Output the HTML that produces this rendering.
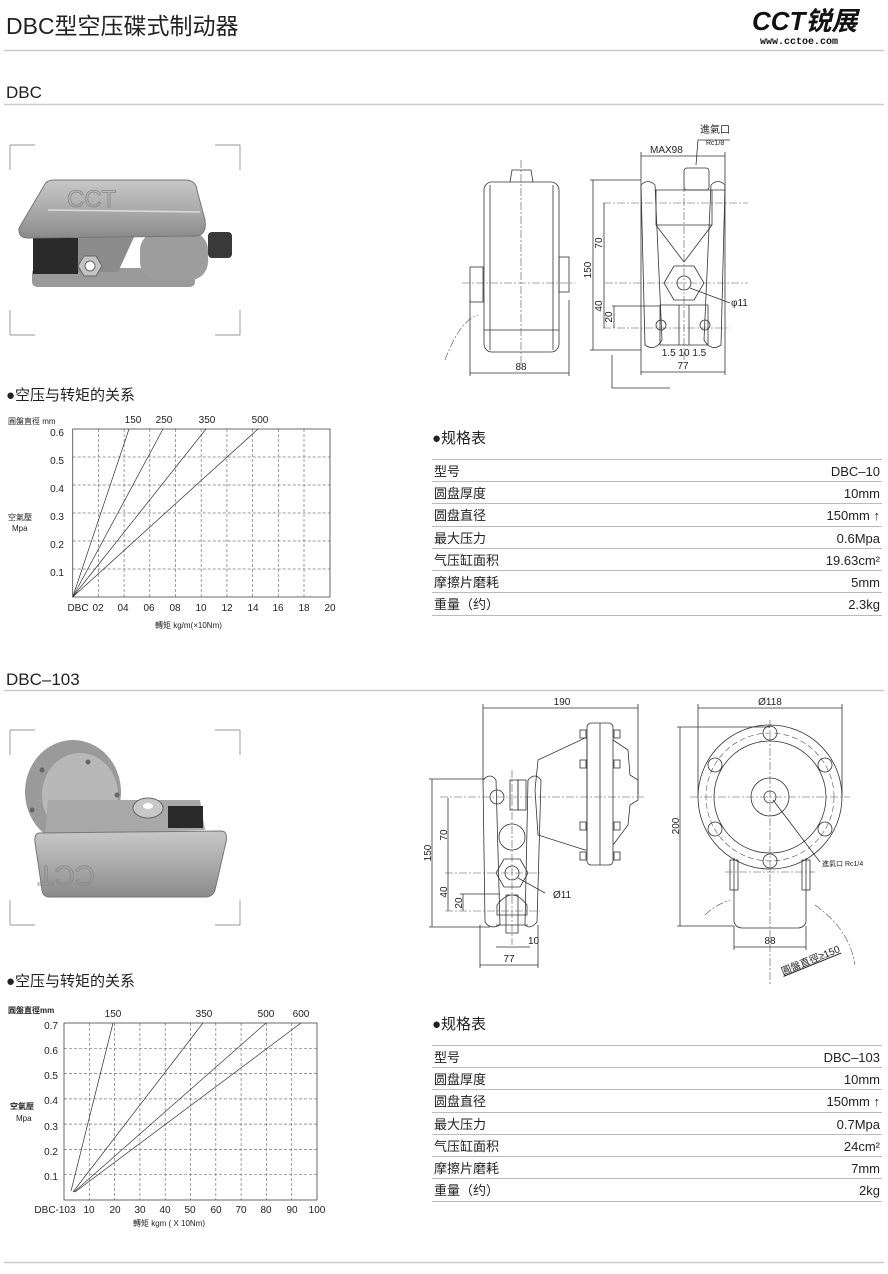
<!DOCTYPE html>
<html><head><meta charset="utf-8"><style>
html,body{margin:0;padding:0;background:#fff}
svg{display:block}
text{font-family:"Liberation Sans","Noto Sans CJK SC",sans-serif;fill:#222}
.t{font-size:13px}
.d{fill:none;stroke:#333;stroke-width:0.8}
.c{fill:none;stroke:#555;stroke-width:0.6;stroke-dasharray:8 2 2 2}
.g{stroke:#777;stroke-width:0.7;stroke-dasharray:3 2}
</style></head><body>
<svg width="888" height="1274" viewBox="0 0 888 1274" xmlns="http://www.w3.org/2000/svg">
<text x="6" y="34" style="font-size:23px">DBC型空压碟式制动器</text>
<text x="752" y="30" style="font-size:26px;font-weight:bold;font-style:italic;fill:#111">CCT锐展</text>
<text x="760" y="44" style="font-size:10px;font-family:'Liberation Mono',monospace;font-weight:bold;fill:#111">www.cctoe.com</text>
<line x1="4" y1="50.5" x2="884" y2="50.5" stroke="#ccc" stroke-width="1.5"/>
<text x="6" y="98" style="font-size:17px">DBC</text>
<line x1="4" y1="104.5" x2="884" y2="104.5" stroke="#ccc" stroke-width="1.5"/>
<text x="6" y="685" style="font-size:17px">DBC–103</text>
<line x1="4" y1="690.5" x2="884" y2="690.5" stroke="#ccc" stroke-width="1.5"/>
<line x1="4" y1="1262.5" x2="884" y2="1262.5" stroke="#ccc" stroke-width="1.5"/>

<g stroke="#777" stroke-width="0.7" fill="none">
<path d="M10 145V170M10 145H35M240 145V170M240 145H215M10 335V310M10 335H35M240 335V310M240 335H215"/>
<path d="M10 730V755M10 730H35M240 730V755M240 730H215M10 925V900M10 925H35M240 925V900M240 925H215"/>
</g>
<defs><linearGradient id="m" x1="0" y1="0" x2="0" y2="1"><stop offset="0" stop-color="#c8c8c8"/><stop offset=".6" stop-color="#a5a5a5"/><stop offset="1" stop-color="#8a8a8a"/></linearGradient></defs>
<!-- photo 1 -->
<rect x="32" y="268" width="163" height="19" rx="5" fill="#9a9a9a"/>
<rect x="33" y="238" width="45" height="36" fill="#2a2a2a"/>
<path d="M78 235 L135 235 L118 272 L78 272 Z" fill="#8c8c8c"/>
<rect x="140" y="232" width="68" height="48" rx="18" fill="#9d9d9d"/>
<rect x="208" y="232" width="24" height="26" rx="4" fill="#3a3a3a"/>
<path d="M45 184 Q47 180 55 180 L185 180 Q196 180 197 190 L205 220 Q207 236 195 236 L28 238 Q18 238 19 228 Z" fill="url(#m)" stroke="#777"/>
<path d="M48 210 L200 212" stroke="#ddd" stroke-width="1.5"/>
<polygon points="78,266 84,256 96,256 102,266 96,276 84,276" fill="#c4c4c4" stroke="#666"/>
<circle cx="90" cy="266" r="5" fill="#fff" stroke="#666"/>
<text x="67" y="207" style="font-size:24px;fill:none;stroke:#888;stroke-width:0.8">CCT</text>
<!-- photo 2 -->
<ellipse cx="73" cy="792" rx="48" ry="52" fill="#9a9a9a"/>
<ellipse cx="80" cy="795" rx="38" ry="42" fill="#b8b8b8"/>
<g fill="#666"><circle cx="42" cy="770" r="2.5"/><circle cx="88" cy="762" r="2.5"/><circle cx="117" cy="795" r="2.5"/><circle cx="32" cy="810" r="2.5"/></g>
<path d="M48 800 L200 800 L205 830 L45 835 Z" fill="#a8a8a8"/>
<rect x="168" y="806" width="35" height="22" fill="#2a2a2a"/>
<ellipse cx="148" cy="808" rx="15" ry="10" fill="#c8c8c8" stroke="#666"/>
<ellipse cx="148" cy="806" rx="5" ry="3" fill="#fff"/>
<path d="M40 833 L222 831 Q228 832 226 842 L215 890 Q213 897 205 897 L50 897 Q43 897 42 890 L35 842 Q34 833 40 833 Z" fill="url(#m)" stroke="#777"/>
<text x="185" y="890" transform="rotate(180 140 878)" style="font-size:28px;fill:none;stroke:#888;stroke-width:0.8">CCT</text>

<!-- drawing 1 front -->
<rect x="484" y="182" width="75" height="170" rx="8" class="d"/>
<line x1="490" y1="185" x2="490" y2="350" class="d"/><line x1="553" y1="185" x2="553" y2="350" class="d"/>
<path d="M510 182 L512 170 L531 170 L533 182" class="d"/>
<rect x="470" y="267" width="13" height="35" class="d"/>
<rect x="559" y="257" width="10" height="35" class="d"/>
<line x1="484" y1="330" x2="559" y2="330" class="d"/>
<line x1="521" y1="160" x2="521" y2="365" class="c"/>
<line x1="462" y1="283" x2="575" y2="283" class="c"/>
<path d="M445 360 Q460 320 478 315" class="c"/>
<line x1="470" y1="373" x2="569" y2="373" class="d"/>
<line x1="470" y1="300" x2="470" y2="376" class="d"/><line x1="569" y1="300" x2="569" y2="376" class="d"/>
<text x="521" y="370" text-anchor="middle" style="font-size:10px">88</text>
<!-- drawing 1 side -->
<path d="M641 185 Q648 178 655 185 L662 340 Q655 352 645 345 Z M725 185 Q718 178 711 185 L704 340 Q711 352 721 345 Z" class="d"/>
<path d="M655 190 H725 M656 190 L656 225 L712 225 L712 190 M656 225 L684 262 L712 225" class="d"/>
<rect x="684" y="168" width="25" height="22" rx="3" class="d"/>
<polygon points="664,283 674,266 694,266 704,283 694,300 674,300" class="d"/>
<circle cx="684" cy="283" r="7" class="d"/>
<path d="M660 305 H708 V345 H660 Z M679 305 V345 M689 305 V345" class="d"/>
<circle cx="661" cy="325" r="5" class="d"/><circle cx="705" cy="325" r="5" class="d"/>
<line x1="684" y1="170" x2="684" y2="360" class="c"/>
<line x1="605" y1="283" x2="748" y2="283" class="c"/>
<line x1="603" y1="203" x2="748" y2="203" class="c"/>
<line x1="603" y1="328" x2="730" y2="328" class="c"/>
<line x1="641" y1="156" x2="725" y2="156" class="d"/>
<line x1="641" y1="152" x2="641" y2="375" class="d"/><line x1="725" y1="152" x2="725" y2="375" class="d"/>
<text x="650" y="153" style="font-size:10px">MAX98</text>
<path d="M696 165 L698 140 H730" class="d"/>
<text x="700" y="133" style="font-size:10px">進氣口</text>
<text x="706" y="145" style="font-size:7px">Rc1/8</text>
<line x1="593" y1="180" x2="593" y2="350" class="d"/><line x1="590" y1="180" x2="641" y2="180" class="d"/><line x1="590" y1="350" x2="641" y2="350" class="d"/>
<text x="591" y="270" transform="rotate(-90 591 270)" text-anchor="middle" style="font-size:10px">150</text>
<line x1="604" y1="203" x2="604" y2="328" class="d"/>
<text x="602" y="243" transform="rotate(-90 602 243)" text-anchor="middle" style="font-size:10px">70</text>
<text x="602" y="306" transform="rotate(-90 602 306)" text-anchor="middle" style="font-size:10px">40</text>
<line x1="614" y1="306" x2="614" y2="328" class="d"/><line x1="612" y1="306" x2="660" y2="306" class="d"/>
<text x="612" y="317" transform="rotate(-90 612 317)" text-anchor="middle" style="font-size:10px">20</text>
<line x1="612" y1="355" x2="612" y2="388" class="d"/><line x1="612" y1="388" x2="670" y2="388" class="d"/>
<line x1="690" y1="288" x2="730" y2="303" class="d"/>
<text x="731" y="306" style="font-size:10px">φ11</text>
<text x="684" y="356" text-anchor="middle" style="font-size:10px">1.5 10 1.5</text>
<line x1="641" y1="372" x2="725" y2="372" class="d"/>
<text x="683" y="369" text-anchor="middle" style="font-size:10px">77</text>

<!-- drawing 2 side -->
<path d="M483 780 Q490 772 496 780 L500 925 Q490 930 485 922 Z M528 780 Q535 772 541 780 L537 922 Q530 930 525 925 Z" class="d"/>
<path d="M496 925 L528 925" class="d"/>
<rect x="510" y="780" width="8" height="30" class="d"/><rect x="518" y="780" width="8" height="30" class="d"/>
<circle cx="497" cy="797" r="7" class="d"/>
<path d="M535 790 L538 760 L585 738 L587 738 L587 850 L585 850 L538 835 Z" class="d"/>
<rect x="587" y="723" width="26" height="142" rx="4" class="d"/>
<line x1="600" y1="723" x2="600" y2="865" class="d"/>
<path d="M613 740 L628 750 L630 775 L638 780 L638 800 L630 805 L628 825 L613 845" class="d"/>
<g class="d"><rect x="580" y="730" width="6" height="8"/><rect x="614" y="730" width="6" height="8"/><rect x="580" y="760" width="6" height="8"/><rect x="614" y="760" width="6" height="8"/><rect x="580" y="822" width="6" height="8"/><rect x="614" y="822" width="6" height="8"/><rect x="580" y="852" width="6" height="8"/><rect x="614" y="852" width="6" height="8"/></g>
<circle cx="512" cy="837" r="13" class="d"/>
<polygon points="496,873 504,859 520,859 528,873 520,887 504,887" class="d"/>
<circle cx="512" cy="873" r="7" class="d"/>
<path d="M497 905 Q512 885 527 905 L527 915 L497 915 Z" class="d"/>
<rect x="506" y="895" width="12" height="38" class="d"/>
<line x1="512" y1="770" x2="512" y2="945" class="c"/>
<line x1="440" y1="797" x2="645" y2="797" class="c"/>
<line x1="445" y1="873" x2="540" y2="873" class="c"/>
<line x1="445" y1="911" x2="540" y2="911" class="c"/>
<line x1="483" y1="708" x2="638" y2="708" class="d"/>
<line x1="483" y1="704" x2="483" y2="780" class="d"/><line x1="638" y1="704" x2="638" y2="795" class="d"/>
<text x="562" y="705" text-anchor="middle" style="font-size:10px">190</text>
<line x1="432" y1="779" x2="432" y2="927" class="d"/><line x1="429" y1="779" x2="485" y2="779" class="d"/><line x1="429" y1="927" x2="490" y2="927" class="d"/>
<text x="431" y="853" transform="rotate(-90 431 853)" text-anchor="middle" style="font-size:10px">150</text>
<line x1="448" y1="798" x2="448" y2="911" class="d"/>
<text x="447" y="835" transform="rotate(-90 447 835)" text-anchor="middle" style="font-size:10px">70</text>
<text x="447" y="892" transform="rotate(-90 447 892)" text-anchor="middle" style="font-size:10px">40</text>
<line x1="463" y1="894" x2="463" y2="911" class="d"/><line x1="460" y1="894" x2="500" y2="894" class="d"/>
<text x="462" y="903" transform="rotate(-90 462 903)" text-anchor="middle" style="font-size:10px">20</text>
<line x1="518" y1="878" x2="545" y2="893" class="d"/>
<text x="553" y="898" style="font-size:10px">Ø11</text>
<line x1="496" y1="947" x2="530" y2="947" class="d"/>
<text x="528" y="944" style="font-size:10px">10</text>
<line x1="480" y1="965" x2="538" y2="965" class="d"/>
<line x1="480" y1="925" x2="480" y2="968" class="d"/><line x1="538" y1="925" x2="538" y2="968" class="d"/>
<text x="509" y="962" text-anchor="middle" style="font-size:10px">77</text>

<!-- drawing 2 circle view -->
<circle cx="770" cy="797" r="72" class="d"/>
<circle cx="770" cy="797" r="64" fill="none" stroke="#555" stroke-width="0.6" stroke-dasharray="6 3"/>
<circle cx="770" cy="797" r="56" class="d"/>
<circle cx="770" cy="797" r="19" class="d"/>
<circle cx="770" cy="797" r="6" class="d"/>
<g class="d">
<circle cx="770" cy="733" r="7"/><circle cx="770" cy="861" r="7"/>
<circle cx="715" cy="765" r="7"/><circle cx="825" cy="765" r="7"/>
<circle cx="715" cy="829" r="7"/><circle cx="825" cy="829" r="7"/>
</g>
<path d="M734 858 L734 922 Q736 928 742 928 L798 928 Q804 928 806 922 L806 858" class="d"/>
<rect x="730" y="860" width="8" height="30" class="d"/><rect x="802" y="860" width="8" height="30" class="d"/>
<line x1="770" y1="720" x2="770" y2="985" class="c"/>
<line x1="690" y1="797" x2="850" y2="797" class="c"/>
<line x1="725" y1="872" x2="815" y2="872" class="c"/>
<line x1="698" y1="708" x2="842" y2="708" class="d"/>
<line x1="698" y1="704" x2="698" y2="797" class="d"/><line x1="842" y1="704" x2="842" y2="797" class="d"/>
<text x="770" y="705" text-anchor="middle" style="font-size:10px">Ø118</text>
<line x1="680" y1="727" x2="680" y2="926" class="d"/><line x1="677" y1="727" x2="770" y2="727" class="d"/><line x1="677" y1="926" x2="734" y2="926" class="d"/>
<text x="679" y="826" transform="rotate(-90 679 826)" text-anchor="middle" style="font-size:10px">200</text>
<line x1="734" y1="947" x2="806" y2="947" class="d"/><line x1="734" y1="926" x2="734" y2="950" class="d"/><line x1="806" y1="926" x2="806" y2="950" class="d"/>
<text x="770" y="944" text-anchor="middle" style="font-size:10px">88</text>
<line x1="773" y1="800" x2="820" y2="862" class="d"/>
<text x="822" y="866" style="font-size:7px">進氣口 Rc1/4</text>
<path d="M705 915 Q715 905 730 900" class="c"/>
<path d="M815 905 Q850 930 855 965" class="c"/>
<text x="783" y="975" transform="rotate(-22 783 975)" style="font-size:10px;text-decoration:underline">圓盤直徑≥150</text>

<!-- chart 1 -->
<text x="6" y="400" style="font-size:15px">●空压与转矩的关系</text>
<g>
<line x1="98.4" y1="429" x2="98.4" y2="597" class="g"/><line x1="124.1" y1="429" x2="124.1" y2="597" class="g"/><line x1="149.8" y1="429" x2="149.8" y2="597" class="g"/><line x1="175.5" y1="429" x2="175.5" y2="597" class="g"/><line x1="201.2" y1="429" x2="201.2" y2="597" class="g"/><line x1="226.9" y1="429" x2="226.9" y2="597" class="g"/><line x1="252.6" y1="429" x2="252.6" y2="597" class="g"/><line x1="278.3" y1="429" x2="278.3" y2="597" class="g"/><line x1="304" y1="429" x2="304" y2="597" class="g"/>
<line x1="72.7" y1="457" x2="330" y2="457" class="g"/><line x1="72.7" y1="485" x2="330" y2="485" class="g"/><line x1="72.7" y1="513" x2="330" y2="513" class="g"/><line x1="72.7" y1="541" x2="330" y2="541" class="g"/><line x1="72.7" y1="569" x2="330" y2="569" class="g"/>
<rect x="72.7" y="429" width="257.3" height="168" fill="none" stroke="#444" stroke-width="0.8"/>
<g stroke="#333" stroke-width="0.7"><line x1="72.7" y1="597" x2="129" y2="429"/><line x1="72.7" y1="597" x2="163" y2="429"/><line x1="72.7" y1="597" x2="206" y2="429"/><line x1="72.7" y1="597" x2="258" y2="429"/></g>
</g>
<text x="64" y="436" text-anchor="end" style="font-size:10px">0.6</text><text x="64" y="464" text-anchor="end" style="font-size:10px">0.5</text><text x="64" y="492" text-anchor="end" style="font-size:10px">0.4</text><text x="64" y="520" text-anchor="end" style="font-size:10px">0.3</text><text x="64" y="548" text-anchor="end" style="font-size:10px">0.2</text><text x="64" y="576" text-anchor="end" style="font-size:10px">0.1</text>
<text x="78" y="611" text-anchor="middle" style="font-size:10px">DBC</text><text x="98" y="611" text-anchor="middle" style="font-size:10px">02</text><text x="123" y="611" text-anchor="middle" style="font-size:10px">04</text><text x="149" y="611" text-anchor="middle" style="font-size:10px">06</text><text x="175" y="611" text-anchor="middle" style="font-size:10px">08</text><text x="201" y="611" text-anchor="middle" style="font-size:10px">10</text><text x="227" y="611" text-anchor="middle" style="font-size:10px">12</text><text x="253" y="611" text-anchor="middle" style="font-size:10px">14</text><text x="278" y="611" text-anchor="middle" style="font-size:10px">16</text><text x="304" y="611" text-anchor="middle" style="font-size:10px">18</text><text x="330" y="611" text-anchor="middle" style="font-size:10px">20</text>
<text x="133" y="423" text-anchor="middle" style="font-size:10px">150</text><text x="164" y="423" text-anchor="middle" style="font-size:10px">250</text><text x="207" y="423" text-anchor="middle" style="font-size:10px">350</text><text x="260" y="423" text-anchor="middle" style="font-size:10px">500</text>
<text x="8" y="424" style="font-size:8px">圓盤直徑 mm</text>
<text x="8" y="520" style="font-size:8px">空氣壓</text><text x="12" y="531" style="font-size:8px">Mpa</text>
<text x="155" y="628" style="font-size:8px">轉矩  kg/m(×10Nm)</text>

<!-- chart 2 -->
<text x="6" y="986" style="font-size:15px">●空压与转矩的关系</text>
<g>
<line x1="89.3" y1="1023" x2="89.3" y2="1200" class="g"/><line x1="114.6" y1="1023" x2="114.6" y2="1200" class="g"/><line x1="139.9" y1="1023" x2="139.9" y2="1200" class="g"/><line x1="165.2" y1="1023" x2="165.2" y2="1200" class="g"/><line x1="190.5" y1="1023" x2="190.5" y2="1200" class="g"/><line x1="215.8" y1="1023" x2="215.8" y2="1200" class="g"/><line x1="241.1" y1="1023" x2="241.1" y2="1200" class="g"/><line x1="266.4" y1="1023" x2="266.4" y2="1200" class="g"/><line x1="291.7" y1="1023" x2="291.7" y2="1200" class="g"/>
<line x1="64" y1="1048.3" x2="317" y2="1048.3" class="g"/><line x1="64" y1="1073.6" x2="317" y2="1073.6" class="g"/><line x1="64" y1="1098.9" x2="317" y2="1098.9" class="g"/><line x1="64" y1="1124.1" x2="317" y2="1124.1" class="g"/><line x1="64" y1="1149.4" x2="317" y2="1149.4" class="g"/><line x1="64" y1="1174.7" x2="317" y2="1174.7" class="g"/>
<rect x="64" y="1023" width="253" height="177" fill="none" stroke="#444" stroke-width="0.8"/>
<g stroke="#333" stroke-width="0.7"><line x1="71" y1="1191" x2="113" y2="1023"/><line x1="73" y1="1192" x2="203" y2="1023"/><line x1="74" y1="1192" x2="266" y2="1023"/><line x1="75" y1="1192" x2="301" y2="1023"/></g>
</g>
<text x="58" y="1029" text-anchor="end" style="font-size:10px">0.7</text><text x="58" y="1054" text-anchor="end" style="font-size:10px">0.6</text><text x="58" y="1079" text-anchor="end" style="font-size:10px">0.5</text><text x="58" y="1104" text-anchor="end" style="font-size:10px">0.4</text><text x="58" y="1130" text-anchor="end" style="font-size:10px">0.3</text><text x="58" y="1155" text-anchor="end" style="font-size:10px">0.2</text><text x="58" y="1180" text-anchor="end" style="font-size:10px">0.1</text>
<text x="55" y="1213" text-anchor="middle" style="font-size:10px">DBC-103</text>
<text x="89" y="1213" text-anchor="middle" style="font-size:10px">10</text><text x="115" y="1213" text-anchor="middle" style="font-size:10px">20</text><text x="140" y="1213" text-anchor="middle" style="font-size:10px">30</text><text x="165" y="1213" text-anchor="middle" style="font-size:10px">40</text><text x="190" y="1213" text-anchor="middle" style="font-size:10px">50</text><text x="216" y="1213" text-anchor="middle" style="font-size:10px">60</text><text x="241" y="1213" text-anchor="middle" style="font-size:10px">70</text><text x="266" y="1213" text-anchor="middle" style="font-size:10px">80</text><text x="292" y="1213" text-anchor="middle" style="font-size:10px">90</text><text x="317" y="1213" text-anchor="middle" style="font-size:10px">100</text>
<text x="113" y="1017" text-anchor="middle" style="font-size:10px">150</text><text x="204" y="1017" text-anchor="middle" style="font-size:10px">350</text><text x="266" y="1017" text-anchor="middle" style="font-size:10px">500</text><text x="301" y="1017" text-anchor="middle" style="font-size:10px">600</text>
<text x="8" y="1013" style="font-size:8px;font-weight:bold">圓盤直徑mm</text>
<text x="10" y="1109" style="font-size:8px;font-weight:bold">空氣壓</text><text x="16" y="1121" style="font-size:8px">Mpa</text>
<text x="133" y="1226" style="font-size:8px">轉矩  kgm ( X 10Nm)</text>

<!-- table 1 -->
<text x="432" y="443" style="font-size:15px">●规格表</text>
<g stroke="#bbb" stroke-width="1">
<line x1="432" y1="459.5" x2="882" y2="459.5"/><line x1="432" y1="481.5" x2="882" y2="481.5"/><line x1="432" y1="503.5" x2="882" y2="503.5"/><line x1="432" y1="526.5" x2="882" y2="526.5"/><line x1="432" y1="548.5" x2="882" y2="548.5"/><line x1="432" y1="570.5" x2="882" y2="570.5"/><line x1="432" y1="592.5" x2="882" y2="592.5"/><line x1="432" y1="615.5" x2="882" y2="615.5"/>
</g>
<text x="434" y="476" class="t">型号</text><text x="880" y="476" text-anchor="end" class="t">DBC–10</text>
<text x="434" y="498" class="t">圆盘厚度</text><text x="880" y="498" text-anchor="end" class="t">10mm</text>
<text x="434" y="520" class="t">圆盘直径</text><text x="880" y="520" text-anchor="end" class="t">150mm ↑</text>
<text x="434" y="543" class="t">最大压力</text><text x="880" y="543" text-anchor="end" class="t">0.6Mpa</text>
<text x="434" y="565" class="t">气压缸面积</text><text x="880" y="565" text-anchor="end" class="t">19.63cm²</text>
<text x="434" y="587" class="t">摩擦片磨耗</text><text x="880" y="587" text-anchor="end" class="t">5mm</text>
<text x="434" y="609" class="t">重量（约）</text><text x="880" y="609" text-anchor="end" class="t">2.3kg</text>

<!-- table 2 -->
<text x="432" y="1029" style="font-size:15px">●规格表</text>
<g stroke="#bbb" stroke-width="1">
<line x1="432" y1="1045.5" x2="882" y2="1045.5"/><line x1="432" y1="1067.5" x2="882" y2="1067.5"/><line x1="432" y1="1089.5" x2="882" y2="1089.5"/><line x1="432" y1="1112.5" x2="882" y2="1112.5"/><line x1="432" y1="1134.5" x2="882" y2="1134.5"/><line x1="432" y1="1156.5" x2="882" y2="1156.5"/><line x1="432" y1="1178.5" x2="882" y2="1178.5"/><line x1="432" y1="1201.5" x2="882" y2="1201.5"/>
</g>
<text x="434" y="1062" class="t">型号</text><text x="880" y="1062" text-anchor="end" class="t">DBC–103</text>
<text x="434" y="1084" class="t">圆盘厚度</text><text x="880" y="1084" text-anchor="end" class="t">10mm</text>
<text x="434" y="1106" class="t">圆盘直径</text><text x="880" y="1106" text-anchor="end" class="t">150mm ↑</text>
<text x="434" y="1129" class="t">最大压力</text><text x="880" y="1129" text-anchor="end" class="t">0.7Mpa</text>
<text x="434" y="1151" class="t">气压缸面积</text><text x="880" y="1151" text-anchor="end" class="t">24cm²</text>
<text x="434" y="1173" class="t">摩擦片磨耗</text><text x="880" y="1173" text-anchor="end" class="t">7mm</text>
<text x="434" y="1195" class="t">重量（约）</text><text x="880" y="1195" text-anchor="end" class="t">2kg</text>
</svg>
</body></html>
